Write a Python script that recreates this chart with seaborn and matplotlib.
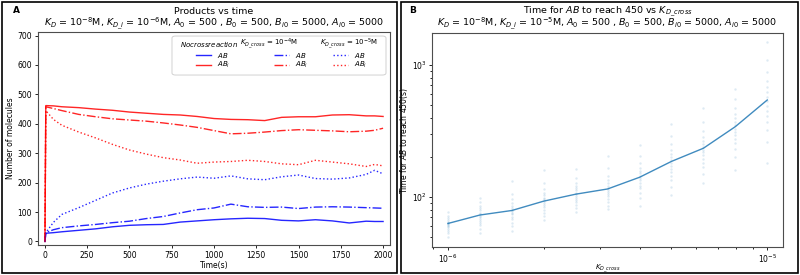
import numpy as np
import pandas as pd
import matplotlib
matplotlib.use("Agg")
import matplotlib.pyplot as plt
import seaborn as sns
from matplotlib.patches import Rectangle, FancyBboxPatch
from matplotlib.lines import Line2D

# =====================
# DATA - panel A (products vs time)
# =====================
time_s = [0, 5, 50, 100, 200, 300, 400, 500, 600, 700, 800, 900, 1000,
          1100, 1200, 1300, 1400, 1500, 1600, 1700, 1800, 1900, 1950, 2000]

ab_nocross = [0, 28, 30, 33, 38, 43, 50, 55, 57, 58, 66, 70, 74,
              77, 79, 78, 72, 70, 74, 70, 63, 69, 68, 68]
abi_nocross = [0, 462, 461, 458, 455, 450, 446, 440, 436, 432, 430, 425, 418,
               415, 414, 411, 422, 424, 424, 430, 431, 427, 427, 425]

ab_cross4 = [0, 30, 40, 47, 53, 58, 64, 69, 78, 85, 97, 108, 114,
             127, 118, 116, 117, 112, 117, 118, 117, 115, 114, 113]
abi_cross4 = [0, 458, 452, 445, 432, 424, 417, 413, 409, 403, 396, 388, 377,
              366, 368, 372, 377, 380, 378, 376, 373, 375, 378, 385]

ab_cross5 = [0, 30, 65, 92, 115, 140, 165, 182, 195, 205, 213, 219, 215,
             223, 213, 210, 220, 226, 214, 212, 216, 228, 242, 230]
abi_cross5 = [0, 445, 415, 395, 372, 352, 330, 311, 297, 285, 277, 266, 270,
              272, 276, 272, 264, 261, 276, 270, 264, 255, 262, 257]

# =====================
# DATA - panel B (time to reach 450)
# =====================
kd_cross = [1.0e-6, 1.259e-6, 1.585e-6, 1.995e-6, 2.512e-6, 3.162e-6,
            3.981e-6, 5.012e-6, 6.310e-6, 7.943e-6, 1.0e-5]
mean_time = [63, 73, 79, 93, 105, 115, 141, 186, 234, 341, 543]

samples = [
    [50, 53, 55, 57, 59, 60, 61, 62, 63, 64, 65, 67, 69, 72, 77],
    [53, 57, 61, 64, 66, 68, 70, 72, 74, 76, 79, 82, 86, 91, 98],
    [55, 60, 64, 68, 71, 74, 76, 78, 80, 83, 86, 90, 96, 105, 132],
    [67, 72, 76, 80, 84, 87, 90, 93, 96, 99, 103, 108, 115, 128, 160],
    [77, 82, 87, 91, 95, 99, 102, 105, 108, 112, 116, 121, 128, 140, 162],
    [81, 86, 92, 97, 101, 105, 109, 113, 117, 122, 127, 134, 145, 165, 204],
    [85, 98, 108, 116, 122, 128, 134, 139, 145, 151, 158, 167, 180, 205, 247],
    [104, 120, 135, 145, 155, 163, 172, 180, 190, 200, 212, 228, 250, 290, 355],
    [127, 150, 168, 182, 195, 207, 218, 228, 240, 252, 267, 285, 315, 370, 470],
    [160, 200, 230, 255, 275, 295, 312, 330, 350, 370, 395, 425, 470, 550, 663],
    [180, 260, 320, 370, 410, 450, 490, 530, 570, 620, 680, 760, 880, 1100, 1500],
]

df_pts = pd.DataFrame({
    "kd": np.repeat(kd_cross, [len(s) for s in samples]),
    "t": np.concatenate(samples),
})

# =====================
# FIGURE
# =====================
fs_tick = 5.5
fs_leg = 5.0
fs_title = 6.8
W, H = 800.0, 275.0
fig = plt.figure(figsize=(8, 2.75), dpi=100)

# panel borders
fig.patches.append(Rectangle((0.002, 0.006), 0.494, 0.988, transform=fig.transFigure,
                             fill=False, edgecolor="black", lw=1.2))
fig.patches.append(Rectangle((0.501, 0.006), 0.496, 0.988, transform=fig.transFigure,
                             fill=False, edgecolor="black", lw=1.2))
fig.text(0.016, 0.963, "A", fontsize=6.5, fontweight="bold", va="center")
fig.text(0.512, 0.963, "B", fontsize=6.5, fontweight="bold", va="center")

sub = ", $A_0$ = 500 , $B_0$ = 500, $B_{i0}$ = 5000, $A_{i0}$ = 5000"

# titles, two lines each, placed on baselines
titles = [
    (214, "Products vs time", "$K_D$ = 10$^{-8}$M, $K_{D\\_i}$ = 10$^{-6}$M" + sub),
    (607.5, "Time for $AB$ to reach 450 vs $K_{D\\_cross}$",
     "$K_D$ = 10$^{-8}$M, $K_{D\\_i}$ = 10$^{-5}$M" + sub),
]
for cx, l1, l2 in titles:
    fig.text(cx / W, 1 - 14.0 / H, l1, fontsize=fs_title, ha="center", va="baseline")
    fig.text(cx / W, 1 - 27.0 / H, l2, fontsize=fs_title, ha="center", va="baseline")

# ---------- panel A ----------
axA = fig.add_axes([0.0471, 0.109, 0.4404, 0.7745])
series = [
    (ab_nocross, "blue", "-"), (abi_nocross, "red", "-"),
    (ab_cross4, "blue", "-."), (abi_cross4, "red", "-."),
    (ab_cross5, "blue", ":"), (abi_cross5, "red", ":"),
]
for vals, col, ls in series:
    sns.lineplot(x=time_s, y=vals, ax=axA, color=col, linestyle=ls, lw=1.0, alpha=0.85)
axA.set_xlim(-43, 2041)
axA.set_ylim(-12, 712)
axA.set_xticks(range(0, 2001, 250))
axA.set_yticks(range(0, 701, 100))
axA.set_xlabel("Time(s)", fontsize=fs_tick, labelpad=1)
axA.set_ylabel("Number of molecules", fontsize=fs_tick, labelpad=2)
axA.tick_params(labelsize=fs_tick, length=2.5, width=0.6, pad=1.5)

# manual legend (column headers + entries)
def ax_x(px):
    return (px - 37.7) / 352.3

def ax_y(py):
    return (245 - py) / 213.0

axA.add_patch(FancyBboxPatch((ax_x(172), ax_y(75)), ax_x(386) - ax_x(172), ax_y(36) - ax_y(75),
                             boxstyle="round,pad=0,rounding_size=0.01", transform=axA.transAxes,
                             facecolor="white", edgecolor="0.8", lw=0.7, alpha=0.9, zorder=5))
leg_cols = [
    ("$Nocrossreaction$", 180, 195.7, "-"),
    ("$K_{D\\_cross}$ = 10$^{-4}$M", 240, 274, "-."),
    ("$K_{D\\_cross}$ = 10$^{-5}$M", 320, 333, ":"),
]
for header, hx, lx, ls in leg_cols:
    axA.text(ax_x(hx), ax_y(43.5), header, transform=axA.transAxes, fontsize=fs_leg,
             va="center", ha="left", zorder=6)
    for py, col, lab in [(55, "blue", "$AB$"), (65, "red", "$AB_i$")]:
        axA.add_line(Line2D([ax_x(lx), ax_x(lx + 15)], [ax_y(py), ax_y(py)], color=col,
                            linestyle=ls, lw=1.0, alpha=0.85, transform=axA.transAxes, zorder=6))
        axA.text(ax_x(lx + 21), ax_y(py), lab, transform=axA.transAxes, fontsize=fs_leg,
                 va="center", ha="left", zorder=6)

# ---------- panel B ----------
axB = fig.add_axes([0.54, 0.1018, 0.439, 0.778])
sns.scatterplot(data=df_pts, x="kd", y="t", ax=axB, color="#1f77b4", s=3, alpha=0.15,
                linewidth=0, legend=False)
sns.lineplot(x=kd_cross, y=mean_time, ax=axB, color="#1f77b4", lw=1.0, alpha=0.85)
axB.set_xscale("log")
axB.set_yscale("log")
axB.set_xlim(10 ** -6.05, 10 ** -4.95)
axB.set_ylim(10 ** 1.621, 10 ** 3.242)
axB.set_xlabel("$K_{D\\_cross}$", fontsize=5)
axB.xaxis.set_label_coords(0.5, -0.075)
axB.set_ylabel("Time for $AB$ to reach 450(s)", fontsize=fs_tick)
axB.yaxis.set_label_coords(-0.064, 0.5)
axB.tick_params(which="both", labelsize=fs_tick, width=0.6, pad=1.5)
axB.tick_params(which="major", length=2.5)
axB.tick_params(which="minor", length=1.5)

for ax in (axA, axB):
    for sp in ax.spines.values():
        sp.set_linewidth(0.8)
        sp.set_color("0.3")

fig.savefig("out.png", dpi=100)
plt.close(fig)
